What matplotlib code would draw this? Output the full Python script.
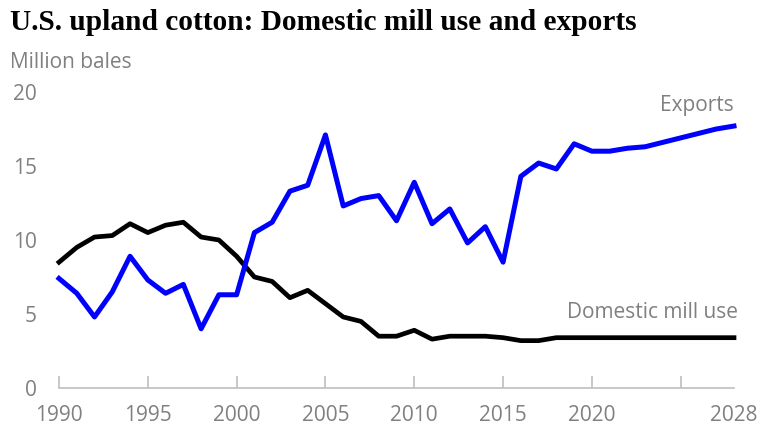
import matplotlib
matplotlib.use("Agg")
import matplotlib.pyplot as plt

years = list(range(1990, 2029))
exports = [7.4, 6.4, 4.8, 6.5, 8.9, 7.3, 6.4, 7.0, 4.0, 6.3,
           6.3, 10.5, 11.2, 13.3, 13.7, 17.1, 12.3, 12.8, 13.0, 11.3,
           13.9, 11.1, 12.1, 9.8, 10.9, 8.5, 14.3, 15.2, 14.8, 16.5,
           16.0, 16.0, 16.2, 16.3, 16.6, 16.9, 17.2, 17.5, 17.7]
mill_use = [8.5, 9.5, 10.2, 10.3, 11.1, 10.5, 11.0, 11.2, 10.2, 10.0,
            8.9, 7.5, 7.2, 6.1, 6.6, 5.7, 4.8, 4.5, 3.5, 3.5,
            3.9, 3.3, 3.5, 3.5, 3.5, 3.4, 3.2, 3.2, 3.4, 3.4,
            3.4, 3.4, 3.4, 3.4, 3.4, 3.4, 3.4, 3.4, 3.4]
y_ticks = [0, 5, 10, 15, 20]
x_ticks = [1990, 1995, 2000, 2005, 2010, 2015, 2020, 2025]
x_labels = ["1990", "1995", "2000", "2005", "2010", "2015", "2020", ""]

GRAY = "#808080"
AXIS_GRAY = "#bfbfbf"
sans = ["Open Sans", "DejaVu Sans"]
FS = 15

fig = plt.figure(figsize=(7.58, 4.36), dpi=100)
ax = fig.add_axes([59 / 758, 1 - 388 / 436, (734 - 59) / 758, (388 - 92) / 436])

ax.plot(years, mill_use, color="black", lw=3.4, solid_joinstyle="round", clip_on=False)
ax.plot(years, exports, color="#0000ff", lw=3.6, solid_joinstyle="round", clip_on=False)

ax.set_xlim(1990, 2028)
ax.set_ylim(0, 20)

for side in ("left", "right", "top"):
    ax.spines[side].set_visible(False)
ax.spines["bottom"].set_color(AXIS_GRAY)
ax.spines["bottom"].set_linewidth(1.2)

ax.set_yticks(y_ticks)
ax.set_yticklabels([str(v) for v in y_ticks], family=sans, fontsize=FS, color=GRAY)
ax.tick_params(axis="y", length=0, pad=16)

ax.set_xticks(x_ticks)
ax.set_xticklabels(x_labels, family=sans, fontsize=FS, color=GRAY)
ax.set_xticks([2028], minor=True)
ax.set_xticklabels(["2028"], minor=True, family=sans, fontsize=FS, color=GRAY)
ax.tick_params(axis="x", which="major", direction="in", length=9, width=1.2,
               color=AXIS_GRAY, pad=12)
ax.tick_params(axis="x", which="minor", direction="in", length=0, pad=12)

ax.text(2028, 19.1, "Exports", ha="right", va="center", family=sans,
        fontsize=FS, color=GRAY)
ax.text(2028.2, 5.1, "Domestic mill use", ha="right", va="center", family=sans,
        fontsize=FS, color=GRAY)

fig.text(10 / 758, 1 - 22 / 436, "U.S. upland cotton: Domestic mill use and exports",
         ha="left", va="center", family=["Liberation Serif"], fontweight="bold",
         fontsize=21.2, color="black")
fig.text(10 / 758, 1 - 62 / 436, "Million bales", ha="left", va="center",
         family=sans, fontsize=FS, color=GRAY)

fig.savefig("out.png", dpi=100)
